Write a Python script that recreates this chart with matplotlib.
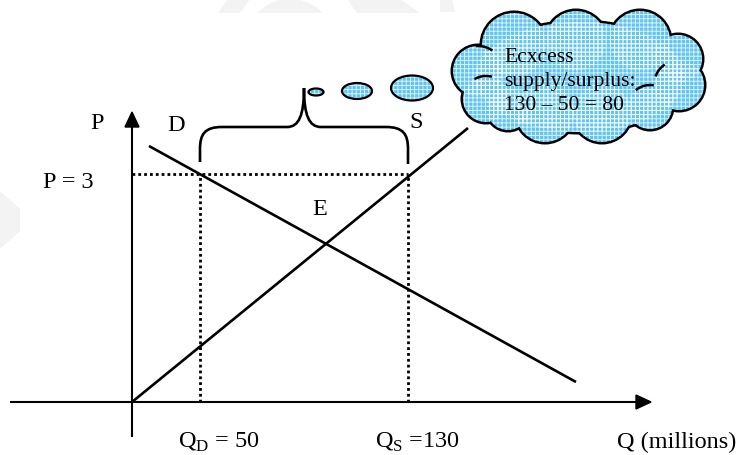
import matplotlib
matplotlib.use("Agg")
import matplotlib.pyplot as plt
from matplotlib.patches import Circle, Ellipse, Polygon, PathPatch, Arc, Rectangle
from matplotlib.path import Path

plt.rcParams['font.family'] = ['Liberation Serif', 'DejaVu Serif']
plt.rcParams['mathtext.fontset'] = 'custom'
plt.rcParams['mathtext.rm'] = 'Liberation Serif'
plt.rcParams['hatch.linewidth'] = 0.7

# ---- diagram data (diagram units: origin at axes crossing) ----
demand_q = [17, 444]
demand_p = [256, 20]
supply_q = [0, 336]
supply_p = [0, 274]
price_level = 228          # P = 3
qd_value = 68              # Q_D = 50
qs_value = 276             # Q_S = 130
labels_bottom = ["Q$_\\mathrm{D}$ = 50", "Q$_\\mathrm{S}$ =130", "Q (millions)"]
cloud_lines = ["Ecxcess", "supply/surplus:", "130 \u2013 50 = 80"]

OX, OY = 132, 403
def P(px, py):
    return (px - OX, OY - py)

fig = plt.figure(figsize=(7.36, 4.56), dpi=100)
ax = fig.add_axes([0, 0, 1, 1])
ax.set_xlim(-OX, 736 - OX)
ax.set_ylim(OY - 456, OY)
ax.axis('off')

# faint watermark shapes (clipped to the top strip)
wm = '#f3f3f3'
ax.add_patch(Polygon([P(0, 192), P(20, 210), P(20, 232), P(0, 250)], closed=True,
                     color=wm, zorder=0, lw=0))
top_clip = Rectangle(P(0, 14), 736, 14, transform=ax.transData)
for patch in [Polygon([P(218, 14), P(228, 0), P(250, 0), P(240, 14)], closed=True),
              Ellipse(P(290, 30), 76, 60),
              Polygon([P(357, 14), P(347, 0), P(400, 0), P(420, 14)], closed=True),
              Polygon([P(440, 13), P(440, 0), P(452, 0), P(455, 13)], closed=True)]:
    patch.set_facecolor(wm); patch.set_edgecolor('none'); patch.set_zorder(0)
    ax.add_patch(patch)
    patch.set_clip_path(top_clip)

lw_ax = 1.5
# axes
ax.plot(*zip(P(10, 403), P(638, 403)), color='black', lw=lw_ax, solid_capstyle='butt')
ax.plot(*zip(P(132, 438), P(132, 126)), color='black', lw=lw_ax, solid_capstyle='butt')
ax.add_patch(Polygon([P(651, 403), P(636, 396), P(636, 410)], closed=True, color='black'))
ax.add_patch(Polygon([P(132, 113), P(125, 128), P(139, 128)], closed=True, color='black'))

# demand & supply
ax.plot(demand_q, demand_p, color='black', lw=1.9, solid_capstyle='butt')
ax.plot(supply_q, supply_p, color='black', lw=1.9, solid_capstyle='butt')

# dotted guides
dot = dict(color='black', lw=2.0, linestyle=(0, (1, 1.1)))
ax.plot([0, qs_value], [price_level, price_level], **dot)
ax.plot([qd_value, qd_value], [0, price_level], **dot)
ax.plot([qs_value, qs_value], [0, price_level], **dot)

# curly brace
verts_px = [
    (200, 163), (200, 150),
    (200, 135), (205, 128), (222, 128),
    (287, 128),
    (299, 128), (304, 116), (304, 89),
    (304, 116), (309, 128), (321, 128),
    (386, 128),
    (403, 128), (408, 135), (408, 150),
    (408, 165),
]
codes = [Path.MOVETO, Path.LINETO,
         Path.CURVE4, Path.CURVE4, Path.CURVE4,
         Path.LINETO,
         Path.CURVE4, Path.CURVE4, Path.CURVE4,
         Path.CURVE4, Path.CURVE4, Path.CURVE4,
         Path.LINETO,
         Path.CURVE4, Path.CURVE4, Path.CURVE4,
         Path.LINETO]
ax.add_patch(PathPatch(Path([P(*v) for v in verts_px], codes), fill=False,
                       edgecolor='black', lw=1.9, capstyle='butt'))

fill_col = '#5fc4ee'
hatch_pat = '++++'

def add_hatch(f, z):
    p3 = f(); p3.set_facecolor('none'); p3.set_edgecolor('white'); p3.set_linewidth(0)
    p3.set_hatch(hatch_pat); p3.set_zorder(z); p3.set_alpha(0.75)
    ax.add_patch(p3)

# thought bubbles
bubbles = [((316, 93), 15, 7), ((357, 92), 30, 16), ((412, 89), 42, 25)]
for (c, w, h) in bubbles:
    cx, cy = P(*c)
    f = lambda cx=cx, cy=cy, w=w, h=h: Ellipse((cx, cy), w, h)
    p = f(); p.set_facecolor(fill_col); p.set_edgecolor('none'); p.set_zorder(3)
    ax.add_patch(p)
    add_hatch(f, 3.1)
    p4 = f(); p4.set_facecolor('none'); p4.set_edgecolor('black'); p4.set_linewidth(1.6); p4.set_zorder(3.2)
    ax.add_patch(p4)

# cloud as union of circles
circles_px = [((478, 72), 25), ((486, 100), 23), ((514, 46), 32), ((576, 42), 30),
              ((640, 42), 30), ((678, 60), 24), ((679, 86), 25), ((650, 108), 22),
              ((602, 114), 29), ((545, 114), 29), ((508, 110), 21)]
factories = []
for (c, r) in circles_px:
    cx, cy = P(*c)
    factories.append(lambda cx=cx, cy=cy, r=r: Circle((cx, cy), r))
factories.append(lambda: Ellipse(P(580, 78), 210, 110))
for f in factories:
    p1 = f(); p1.set_facecolor('none'); p1.set_edgecolor('black'); p1.set_linewidth(3.6); p1.set_zorder(4)
    ax.add_patch(p1)
for f in factories:
    p2 = f(); p2.set_facecolor(fill_col); p2.set_edgecolor('none'); p2.set_zorder(5)
    ax.add_patch(p2)
for f in factories:
    add_hatch(f, 5.1)

# inner arcs of the cloud
arcs = [((478, 72), 25, 55, 95), ((486, 100), 23, 75, 120), ((650, 108), 22, 80, 130),
        ((679, 86), 25, 125, 160)]
for (c, r, t1, t2) in arcs:
    ax.add_patch(Arc(P(*c), 2 * r, 2 * r, theta1=t1, theta2=t2, color='black', lw=1.8, zorder=6))

# cloud text
for txt, by in zip(cloud_lines, [62, 86, 110]):
    ax.text(*P(504, by), txt, fontsize=15.5, ha='left', va='baseline', zorder=7)

# labels
fs = 17.5
ax.text(*P(90, 129), "P", fontsize=fs, ha='left', va='baseline')
ax.text(*P(167, 131), "D", fontsize=fs, ha='left', va='baseline')
ax.text(*P(409, 128), "S", fontsize=fs, ha='left', va='baseline')
ax.text(*P(312, 215), "E", fontsize=fs, ha='left', va='baseline')
ax.text(*P(43, 188), "P = 3", fontsize=fs, ha='left', va='baseline')
for txt, x in zip(labels_bottom, [178, 375, 617]):
    ax.text(*P(x, 448), txt, fontsize=fs, ha='left', va='baseline')

fig.savefig("out.png", dpi=100)
